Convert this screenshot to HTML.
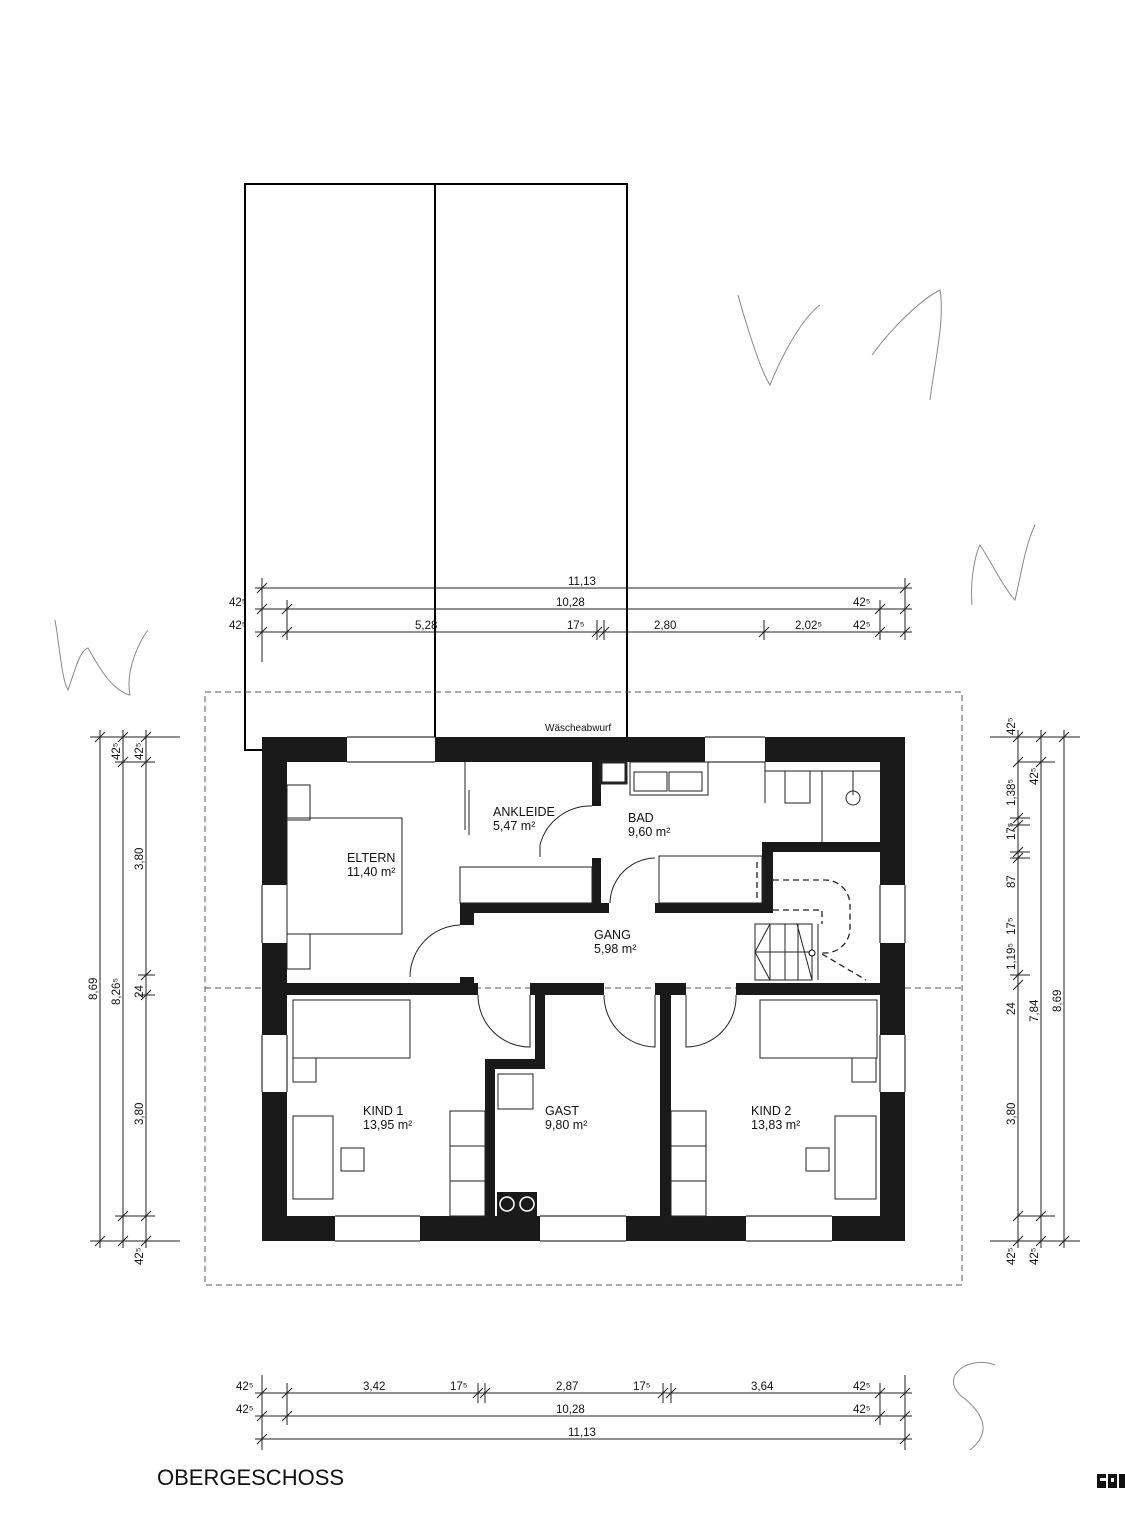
<!DOCTYPE html>
<html><head><meta charset="utf-8"><style>
html,body{margin:0;padding:0;background:#fff}
svg{display:block}
text{font-family:"Liberation Sans",sans-serif;fill:#111}
.d{font-size:11.5px}
.r{font-size:12.5px}
</style></head><body>
<svg width="1125" height="1517" viewBox="0 0 1125 1517" xmlns="http://www.w3.org/2000/svg">
<!-- top rectangles -->
<g fill="none" stroke="#000" stroke-width="2">
<path d="M262,750 H245 V184 H627 V737"/>
<line x1="435" y1="184" x2="435" y2="737"/>
</g>
<!-- dashed roof -->
<g fill="none" stroke="#555" stroke-width="1" stroke-dasharray="6,4">
<rect x="205" y="692" width="757" height="593"/>
<line x1="205" y1="988" x2="962" y2="988"/>
</g>
<!-- outer walls -->
<g fill="#1a1a1a">
<rect x="262" y="737" width="85" height="25"/>
<rect x="435" y="737" width="270" height="25"/>
<rect x="765" y="737" width="140" height="25"/>
<rect x="262" y="737" width="25" height="148"/>
<rect x="262" y="943" width="25" height="92"/>
<rect x="262" y="1092" width="25" height="149"/>
<rect x="880" y="737" width="25" height="148"/>
<rect x="880" y="943" width="25" height="92"/>
<rect x="880" y="1092" width="25" height="149"/>
<rect x="262" y="1216" width="73" height="25"/>
<rect x="420" y="1216" width="120" height="25"/>
<rect x="626" y="1216" width="120" height="25"/>
<rect x="832" y="1216" width="73" height="25"/>
<!-- interior -->
<rect x="287" y="983" width="191" height="12"/>
<rect x="530" y="983" width="74" height="12"/>
<rect x="655" y="983" width="31" height="12"/>
<rect x="736" y="983" width="144" height="12"/>
<rect x="535" y="995" width="10" height="74"/>
<rect x="485" y="1059" width="60" height="10"/>
<rect x="485" y="1059" width="10" height="157"/>
<rect x="660" y="995" width="11" height="221"/>
<rect x="592" y="762" width="9" height="44"/>
<rect x="592" y="858" width="9" height="45"/>
<rect x="460" y="903" width="149" height="10"/>
<rect x="655" y="903" width="118" height="10"/>
<rect x="460" y="903" width="14" height="22"/>
<rect x="460" y="977" width="14" height="8"/>
<rect x="762" y="842" width="11" height="71"/>
<rect x="762" y="842" width="118" height="10"/>
<rect x="497" y="1192" width="40" height="24"/>
</g>
<g fill="none" stroke="#fff" stroke-width="1.5"><circle cx="507" cy="1204" r="7"/><circle cx="527" cy="1204" r="7"/></g>
<!-- window lines -->
<g stroke="#000" stroke-width="1">
<line x1="347" y1="737" x2="435" y2="737"/><line x1="347" y1="762" x2="435" y2="762"/>
<line x1="705" y1="737" x2="765" y2="737"/><line x1="705" y1="762" x2="765" y2="762"/>
<line x1="335" y1="1216" x2="420" y2="1216"/><line x1="335" y1="1241" x2="420" y2="1241"/>
<line x1="540" y1="1216" x2="626" y2="1216"/><line x1="540" y1="1241" x2="626" y2="1241"/>
<line x1="746" y1="1216" x2="832" y2="1216"/><line x1="746" y1="1241" x2="832" y2="1241"/>
<line x1="262" y1="885" x2="262" y2="943"/><line x1="287" y1="885" x2="287" y2="943"/>
<line x1="262" y1="1035" x2="262" y2="1092"/><line x1="287" y1="1035" x2="287" y2="1092"/>
<line x1="880" y1="885" x2="880" y2="943"/><line x1="905" y1="885" x2="905" y2="943"/>
<line x1="880" y1="1035" x2="880" y2="1092"/><line x1="905" y1="1035" x2="905" y2="1092"/>
</g>
<!-- furniture -->
<g fill="none" stroke="#222" stroke-width="1">
<rect x="287" y="785" width="23" height="35"/>
<rect x="287" y="818" width="115" height="116"/>
<rect x="287" y="934" width="23" height="35"/>
<line x1="465" y1="762" x2="465" y2="830"/><line x1="469" y1="790" x2="469" y2="835"/>
<rect x="460" y="867" width="132" height="36"/>
<rect x="601" y="762" width="25" height="21" stroke-width="3"/>
<rect x="630" y="762" width="78" height="33"/>
<rect x="634" y="772" width="33" height="19"/><rect x="669" y="772" width="33" height="19"/>
<line x1="765" y1="762" x2="765" y2="803"/><line x1="765" y1="771" x2="880" y2="771"/>
<rect x="785" y="771" width="25" height="32"/>
<line x1="822" y1="771" x2="822" y2="842"/>
<circle cx="853" cy="798" r="7"/><line x1="853" y1="771" x2="853" y2="795"/>
<rect x="659" y="856" width="103" height="47"/>
<rect x="293" y="1000" width="117" height="58"/>
<rect x="293" y="1058" width="23" height="24"/>
<rect x="293" y="1116" width="40" height="83"/>
<rect x="341" y="1148" width="23" height="23"/>
<rect x="450" y="1111" width="35" height="105"/><line x1="450" y1="1146" x2="485" y2="1146"/><line x1="450" y1="1181" x2="485" y2="1181"/>
<rect x="498" y="1074" width="35" height="35"/>
<rect x="671" y="1111" width="35" height="105"/><line x1="671" y1="1146" x2="706" y2="1146"/><line x1="671" y1="1181" x2="706" y2="1181"/>
<rect x="760" y="1000" width="117" height="58"/>
<rect x="852" y="1058" width="24" height="24"/>
<rect x="835" y="1116" width="41" height="83"/>
<rect x="806" y="1148" width="23" height="23"/>
<rect x="755" y="924" width="57" height="56"/>
<line x1="770" y1="924" x2="770" y2="980"/><line x1="785" y1="924" x2="785" y2="980"/><line x1="798" y1="924" x2="798" y2="980"/>
<line x1="755" y1="952" x2="812" y2="952"/>
<polyline points="770,924 755,952 770,980"/>
<line x1="797" y1="924" x2="812" y2="980"/>
<line x1="818" y1="924" x2="818" y2="980"/>
<path d="M410,977 A52,52 0 0 1 460,925"/>
<path d="M540,857 L540,845 A52,52 0 0 1 592,806"/>
<path d="M610,903 A46,46 0 0 1 655,858"/>
<path d="M478,995 A52,52 0 0 0 530,1047 L530,995"/>
<path d="M604,995 A52,52 0 0 0 655,1047 L655,995"/>
<path d="M736,995 A50,50 0 0 1 686,1047 L686,995"/>
</g>
<g fill="none" stroke="#222" stroke-width="1.3" stroke-dasharray="6,4">
<path d="M757,862 L757,900 M773,880 L825,880 A25,25 0 0 1 850,905 L850,930 A25,25 0 0 1 818,952"/>
<path d="M773,910 L822,910 L822,924"/>
<path d="M822,954 L866,980"/>
</g>
<circle cx="812" cy="953" r="3" fill="#fff" stroke="#000"/>
<g class="r">
<text x="347" y="862">ELTERN</text><text x="347" y="876">11,40 m²</text>
<text x="493" y="816">ANKLEIDE</text><text x="493" y="830">5,47 m²</text>
<text x="628" y="822">BAD</text><text x="628" y="836">9,60 m²</text>
<text x="594" y="939">GANG</text><text x="594" y="953">5,98 m²</text>
<text x="363" y="1115">KIND 1</text><text x="363" y="1129">13,95 m²</text>
<text x="545" y="1115">GAST</text><text x="545" y="1129">9,80 m²</text>
<text x="751" y="1115">KIND 2</text><text x="751" y="1129">13,83 m²</text>
</g>
<text x="545" y="731" style="font-size:10px">Wäscheabwurf</text>
<g stroke="#222" stroke-width="1" fill="none">
<line x1="255" y1="588" x2="912" y2="588"/><line x1="255" y1="609" x2="912" y2="609"/><line x1="255" y1="632" x2="912" y2="632"/>
<path d="M262,578V662 M905,578V640 M287,600V640 M880,600V640 M597,620V640 M604,620V640 M764,620V640"/>
<path d="M257,593l10,-10 M900,593l10,-10 M257,614l10,-10 M282,614l10,-10 M875,614l10,-10 M900,614l10,-10 M257,637l10,-10 M282,637l10,-10 M592,637l10,-10 M599,637l10,-10 M759,637l10,-10 M875,637l10,-10 M900,637l10,-10"/>
<line x1="255" y1="1393" x2="912" y2="1393"/><line x1="255" y1="1416" x2="912" y2="1416"/><line x1="255" y1="1439" x2="912" y2="1439"/>
<path d="M262,1375V1450 M905,1375V1450 M287,1383V1425 M880,1383V1425 M478,1383V1403 M485,1383V1403 M663,1383V1403 M671,1383V1403"/>
<path d="M257,1398l10,-10 M282,1398l10,-10 M473,1398l10,-10 M480,1398l10,-10 M658,1398l10,-10 M666,1398l10,-10 M875,1398l10,-10 M900,1398l10,-10 M257,1421l10,-10 M282,1421l10,-10 M875,1421l10,-10 M900,1421l10,-10 M257,1444l10,-10 M900,1444l10,-10"/>
<line x1="100" y1="730" x2="100" y2="1248"/><line x1="123" y1="730" x2="123" y2="1248"/><line x1="146" y1="730" x2="146" y2="1248"/>
<path d="M90,737H180 M90,1241H180 M115,762H155 M138,975H155 M138,995H155 M115,1216H155"/>
<path d="M95,742l10,-10 M95,1246l10,-10 M118,742l10,-10 M118,767l10,-10 M118,1246l10,-10 M118,1221l10,-10 M141,742l10,-10 M141,767l10,-10 M141,980l10,-10 M141,1000l10,-10 M141,1221l10,-10 M141,1246l10,-10"/>
<line x1="1018" y1="730" x2="1018" y2="1248"/><line x1="1041" y1="730" x2="1041" y2="1248"/><line x1="1064" y1="730" x2="1064" y2="1248"/>
<path d="M990,737H1080 M990,1241H1080 M1018,762H1055 M1010,818H1030 M1010,825H1030 M1010,852H1030 M1010,858H1030 M1010,975H1030 M1018,1216H1055"/>
<path d="M1013,742l10,-10 M1013,767l10,-10 M1013,823l10,-10 M1013,830l10,-10 M1013,857l10,-10 M1013,863l10,-10 M1013,980l10,-10 M1013,990l10,-10 M1013,1221l10,-10 M1013,1246l10,-10 M1036,742l10,-10 M1036,767l10,-10 M1036,1221l10,-10 M1036,1246l10,-10 M1059,742l10,-10 M1059,1246l10,-10"/>
</g>
<g class="d">
<text x="568" y="585">11,13</text>
<text x="556" y="606">10,28</text>
<text x="229" y="606">42⁵</text><text x="853" y="606">42⁵</text>
<text x="229" y="629">42⁵</text><text x="415" y="629">5,28</text><text x="567" y="629">17⁵</text><text x="654" y="629">2,80</text><text x="795" y="629">2,02⁵</text><text x="853" y="629">42⁵</text>
<text x="236" y="1390">42⁵</text><text x="363" y="1390">3,42</text><text x="450" y="1390">17⁵</text><text x="556" y="1390">2,87</text><text x="633" y="1390">17⁵</text><text x="751" y="1390">3,64</text><text x="853" y="1390">42⁵</text>
<text x="236" y="1413">42⁵</text><text x="556" y="1413">10,28</text><text x="853" y="1413">42⁵</text>
<text x="568" y="1436">11,13</text>
<g transform="rotate(-90)">
<text x="-1000" y="97">8,69</text>
<text x="-1005" y="120">8,26⁵</text>
<text x="-760" y="120">42⁵</text>
<text x="-760" y="143">42⁵</text>
<text x="-870" y="143">3,80</text>
<text x="-998" y="143">24</text>
<text x="-1125" y="143">3,80</text>
<text x="-1265" y="143">42⁵</text>
<text x="-735" y="1015">42⁵</text>
<text x="-806" y="1015">1,38⁵</text>
<text x="-840" y="1015">17⁵</text>
<text x="-888" y="1015">87</text>
<text x="-935" y="1015">17⁵</text>
<text x="-970" y="1015">1,19⁵</text>
<text x="-1015" y="1015">24</text>
<text x="-1125" y="1015">3,80</text>
<text x="-1265" y="1015">42⁵</text>
<text x="-785" y="1038">42⁵</text>
<text x="-1022" y="1038">7,84</text>
<text x="-1265" y="1038">42⁵</text>
<text x="-1012" y="1061">8,69</text>
</g>
</g>
<g fill="none" stroke="#888" stroke-width="1">
<path d="M55,620 C60,650 62,680 68,690 C75,670 80,650 88,648 C95,660 110,690 130,695 C125,670 140,640 148,630"/>
<path d="M738,295 C745,320 760,370 770,385 C780,360 800,320 820,305"/>
<path d="M872,355 C890,330 920,300 940,290 C945,320 935,360 930,400"/>
<path d="M972,605 C970,580 975,555 980,545 C990,560 1005,590 1015,600 C1020,580 1025,545 1035,525"/>
<path d="M995,1365 C970,1355 940,1375 960,1395 C980,1410 995,1430 970,1450"/>
</g>
<text x="157" y="1485" style="font-size:22px">OBERGESCHOSS</text>
<g fill="#111"><rect x="1097" y="1474" width="9" height="14"/><rect x="1108" y="1474" width="9" height="14"/><rect x="1119" y="1474" width="6" height="14"/></g>
<g fill="#fff"><rect x="1100" y="1478" width="6" height="3"/><rect x="1111" y="1478" width="3" height="4"/></g>
</svg>
</body></html>
